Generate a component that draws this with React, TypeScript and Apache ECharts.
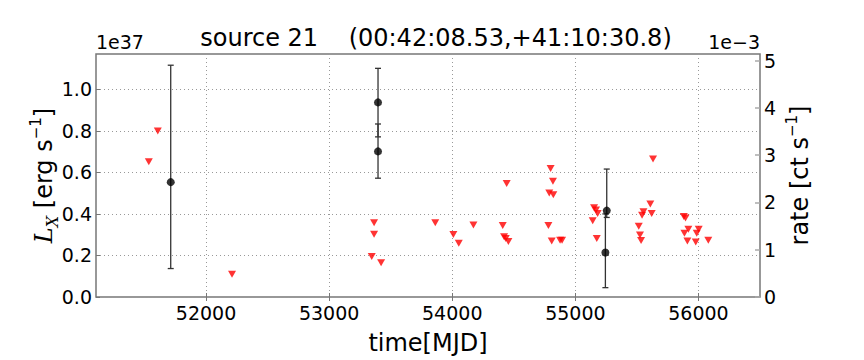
import React, { useEffect, useRef } from "react";
import * as echarts from "echarts";

const titleText = "source 21    (00:42:08.53,+41:10:30.8)";
const xTicks = [52000, 53000, 54000, 55000, 56000];
const lxTicks = [0, 0.2, 0.4, 0.6, 0.8, 1.0];
const rateTicks = [0, 1, 2, 3, 4, 5];

// upper limits (red down triangles), L_X in units of 1e37
const ulTime = [
  51535, 51608, 52211, 53346, 53365, 53365, 53422,
  53862, 54009, 54053, 54172,
  54410, 54421, 54435, 54442, 54456,
  54781, 54788, 54799, 54808, 54818, 54821, 54876, 54892,
  55141, 55152, 55168, 55174, 55181,
  55515, 55525, 55534, 55542, 55553, 55609, 55620, 55631,
  55881, 55886, 55895, 55910, 55918, 55978, 55986, 56002, 56080,
];
const ulLx = [
  0.651, 0.799, 0.110, 0.195, 0.357, 0.302, 0.165,
  0.357, 0.301, 0.259, 0.347,
  0.344, 0.290, 0.282, 0.546, 0.267,
  0.344, 0.501, 0.619, 0.270, 0.557, 0.492, 0.273, 0.273,
  0.367, 0.430, 0.419, 0.282, 0.402,
  0.341, 0.298, 0.272, 0.394, 0.411, 0.448, 0.402, 0.664,
  0.388, 0.307, 0.380, 0.270, 0.326, 0.265, 0.307, 0.326, 0.273,
];

// detections (black dots with error bars)
const detTime = [51713, 53397, 53397, 55255, 55244];
const detLx = [0.553, 0.937, 0.701, 0.416, 0.214];
const detLow = [0.137, 0.771, 0.572, 0.383, 0.045];
const detHigh = [1.116, 1.101, 0.833, 0.616, 0.4];

const X_MIN = 51106;
const X_MAX = 56500;
const LX_MAX = 1.17;
const RATE_MAX = 5.14;

export default function App() {
  const ref = useRef<HTMLDivElement>(null);
  useEffect(() => {
    if (!ref.current) return;
    const chart = echarts.init(ref.current, null, { renderer: "svg" });
    const font = "DejaVu Sans";
    const frame = "#777777";
    const ulData = ulTime.map((t, i) => [t, ulLx[i]]);
    const detData = detTime.map((t, i) => [t, detLx[i]]);
    const errData = detTime.map((t, i) => [t, detLx[i], detLow[i], detHigh[i]]);
    const option: any = {
      animation: false,
      backgroundColor: "#ffffff",
      textStyle: { fontFamily: font },
      title: {
        text: titleText,
        left: 431,
        top: 21,
        textAlign: "center",
        textStyle: { fontFamily: font, fontSize: 24, fontWeight: "normal", color: "#000" },
      },
      graphic: [
        {
          type: "text",
          left: 96,
          top: 32,
          style: { text: "1e37", fontFamily: font, fontSize: 19, fill: "#000" },
        },
        {
          type: "text",
          right: 104,
          top: 32,
          style: { text: "1e\u22123", fontFamily: font, fontSize: 19, fill: "#000" },
        },
      ],
      grid: {
        left: 96,
        right: 104,
        top: 54,
        bottom: 54,
        show: true,
        borderColor: frame,
        borderWidth: 1.5,
        backgroundColor: "transparent",
      },
      xAxis: [
        {
          type: "value",
          min: X_MIN,
          max: X_MAX,
          position: "bottom",
          name: "time[MJD]",
          nameLocation: "middle",
          nameGap: 34,
          nameMoveOverlap: false,
          nameTextStyle: { fontFamily: font, fontSize: 24, color: "#000" },
          axisLine: { show: false },
          axisTick: {
            show: true,
            inside: true,
            length: 4,
            customValues: xTicks,
            lineStyle: { color: frame },
          },
          axisLabel: {
            customValues: xTicks,
            fontFamily: font,
            fontSize: 19,
            color: "#000",
            margin: 6,
            formatter: (v: number) => String(Math.round(v)),
          },
          splitLine: {
            show: true,
            lineStyle: { color: "#999", type: [1, 3], width: 1 },
          },
        },
        {
          type: "value",
          min: X_MIN,
          max: X_MAX,
          position: "top",
          axisLine: { show: false },
          axisTick: {
            show: true,
            inside: true,
            length: 4,
            customValues: xTicks,
            lineStyle: { color: frame },
          },
          axisLabel: { show: false, customValues: xTicks },
          splitLine: { show: false },
        },
      ],
      yAxis: [
        {
          type: "value",
          min: 0,
          max: LX_MAX,
          position: "left",
          name: "{i|L}{sub|X} [erg s{sup|\u22121}]",
          nameLocation: "middle",
          nameRotate: 90,
          nameGap: 36,
          nameMoveOverlap: false,
          nameTextStyle: {
            fontFamily: font,
            fontSize: 24,
            color: "#000",
            lineHeight: 32,
            rich: {
              i: {
                fontFamily: "DejaVu Serif",
                fontStyle: "italic",
                fontSize: 24,
                color: "#000",
                lineHeight: 32,
              },
              sub: {
                fontFamily: "DejaVu Serif",
                fontStyle: "italic",
                fontSize: 16,
                color: "#000",
                verticalAlign: "bottom",
                lineHeight: 16,
              },
              sup: {
                fontFamily: font,
                fontSize: 15,
                color: "#000",
                verticalAlign: "top",
                lineHeight: 15,
              },
            },
          },
          axisLine: { show: false },
          axisTick: {
            show: true,
            inside: true,
            length: 4,
            customValues: lxTicks,
            lineStyle: { color: frame },
          },
          axisLabel: {
            customValues: lxTicks,
            fontFamily: font,
            fontSize: 19,
            color: "#000",
            margin: 4,
            formatter: (v: number) => v.toFixed(1),
          },
          splitLine: {
            show: true,
            lineStyle: { color: "#999", type: [1, 3], width: 1 },
          },
        },
        {
          type: "value",
          min: 0,
          max: RATE_MAX,
          position: "right",
          name: "rate [ct s{sup|\u22121}]",
          nameLocation: "middle",
          nameRotate: 90,
          nameGap: 24,
          nameMoveOverlap: false,
          nameTextStyle: {
            fontFamily: font,
            fontSize: 24,
            color: "#000",
            lineHeight: 32,
            rich: {
              sup: {
                fontFamily: font,
                fontSize: 15,
                color: "#000",
                verticalAlign: "top",
                lineHeight: 15,
              },
            },
          },
          axisLine: { show: false },
          axisTick: {
            show: true,
            inside: true,
            length: 5,
            customValues: rateTicks,
            lineStyle: { color: "#aaa", width: 1.5 },
          },
          axisLabel: {
            customValues: rateTicks,
            fontFamily: font,
            fontSize: 19,
            color: "#000",
            margin: 4,
          },
          splitLine: { show: false },
        },
      ],
      series: [
        {
          type: "custom",
          xAxisIndex: 0,
          yAxisIndex: 0,
          data: errData,
          encode: { x: 0, y: 1 },
          z: 3,
          renderItem: (params: any, api: any) => {
            const x = api.value(0);
            const top = api.coord([x, api.value(3)]);
            const bot = api.coord([x, api.value(2)]);
            const cap = 3;
            const st = { stroke: "#333", lineWidth: 1.3 };
            return {
              type: "group",
              children: [
                { type: "line", shape: { x1: top[0], y1: top[1], x2: bot[0], y2: bot[1] }, style: st },
                { type: "line", shape: { x1: top[0] - cap, y1: top[1], x2: top[0] + cap, y2: top[1] }, style: st },
                { type: "line", shape: { x1: bot[0] - cap, y1: bot[1], x2: bot[0] + cap, y2: bot[1] }, style: st },
              ],
            };
          },
        },
        {
          type: "scatter",
          xAxisIndex: 0,
          yAxisIndex: 0,
          data: ulData,
          symbol: "triangle",
          symbolRotate: 180,
          symbolSize: [8, 7],
          itemStyle: { color: "#ff0000" },
          z: 4,
        },
        {
          type: "scatter",
          xAxisIndex: 0,
          yAxisIndex: 0,
          data: detData,
          symbol: "circle",
          symbolSize: 8,
          itemStyle: { color: "#000000" },
          z: 5,
        },
      ],
    };
    chart.setOption(option);
    return () => chart.dispose();
  }, []);
  return (
    <div
      ref={ref}
      style={{ position: "fixed", left: 0, top: 0, width: 864, height: 360, background: "#fff" }}
    />
  );
}
